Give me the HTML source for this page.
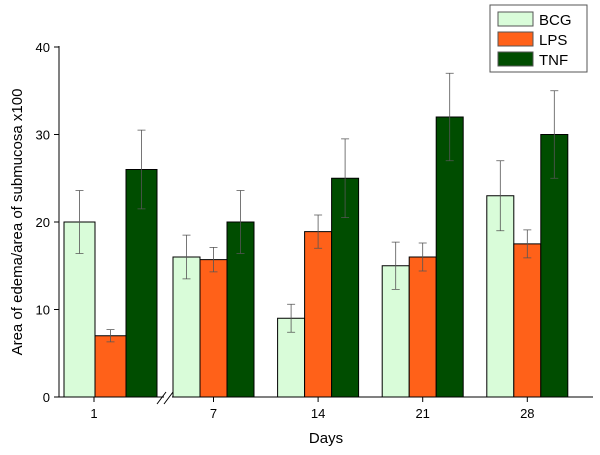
<!DOCTYPE html>
<html><head><meta charset="utf-8"><style>
body{margin:0;background:#fff;width:600px;height:450px;overflow:hidden}
svg{font-family:"Liberation Sans",Arial,sans-serif}
</style></head><body>
<svg id="chart" width="600" height="450">
<g id="plot"></g>
</svg>
<script>
const categories=["1","7","14","21","28"];
const seriesNames=["BCG","LPS","TNF"];
const bcg=[20,16,9,15,23];
const lps=[7,15.7,18.9,16,17.5];
const tnf=[26,20,25,32,30];
const bcgErr=[3.6,2.5,1.6,2.7,4];
const lpsErr=[0.7,1.4,1.9,1.6,1.6];
const tnfErr=[4.5,3.6,4.5,5,5];
const yTicks=[0,10,20,30,40];
const colors=["#d9fcd9","#ff6119","#004d00"];
const NS="http://www.w3.org/2000/svg";
const g=document.getElementById('plot');
function y(v){return 397-v*8.75;}
function groupLeft(i){return i===0?64:173+104.6*(i-1);}
function barW(i){return i===0?31:27;}
function tickX(i){return i===0?94:groupLeft(i)+barW(i)*1.5;}
function el(t,a){const e=document.createElementNS(NS,t);for(const k in a)e.setAttribute(k,a[k]);g.appendChild(e);return e;}
const vals=[bcg,lps,tnf],errs=[bcgErr,lpsErr,tnfErr];
categories.forEach((c,i)=>{
  vals.forEach((s,j)=>{
    const x=groupLeft(i)+j*barW(i),w=barW(i);
    const r=el('rect',{x:x,y:y(s[i]),width:w,height:y(0)-y(s[i]),fill:colors[j],stroke:'#000','stroke-width':1});
    
    
    const cx=x+w/2,e=errs[j][i];
    const p=el('path',{d:`M${cx},${y(s[i]+e)}V${y(s[i]-e)}M${cx-4},${y(s[i]+e)}H${cx+4}M${cx-4},${y(s[i]-e)}H${cx+4}`,stroke:'#555','stroke-width':0.8,fill:'none'});
    
    
  });
  const tx=tickX(i);
  const tk=el('line',{x1:tx,y1:397,x2:tx,y2:402,stroke:'#000'});
  
  
  const tl=el('text',{x:tx,y:418,'font-size':13,'text-anchor':'middle'});
  tl.textContent=c;
  
  
});
yTicks.forEach(v=>{
  const t=el('line',{x1:54,y1:y(v),x2:59,y2:y(v),stroke:'#000'});
  
  
  const l=el('text',{x:50,y:y(v)+5,'font-size':13,'text-anchor':'end'});
  l.textContent=v;
  
  
});
const ya=el('line',{x1:59,y1:46,x2:59,y2:397,stroke:'#000'});


const xa=el('path',{d:'M59,397H164M172,397H593',stroke:'#000',fill:'none'});


const br=el('path',{d:'M157,404L166,392M164,404L173,392',stroke:'#000',fill:'none'});


const xt=el('text',{x:326,y:443,'font-size':15,'text-anchor':'middle'});
xt.textContent='Days';


const yt=el('text',{x:0,y:0,'font-size':15,'text-anchor':'middle',transform:'translate(22,222) rotate(-90)'});
yt.textContent='Area of edema/area of submucosa x100';


const lb=el('rect',{x:490,y:5,width:97,height:67,fill:'#fff',stroke:'#555'});


seriesNames.forEach((n,j)=>{
  const s=el('rect',{x:498,y:12+j*20,width:35,height:14,fill:colors[j],stroke:'#555'});
  
  
  const t=el('text',{x:539,y:25+j*20,'font-size':15});
  t.textContent=n;
  
  
});
</script>
</body></html>
